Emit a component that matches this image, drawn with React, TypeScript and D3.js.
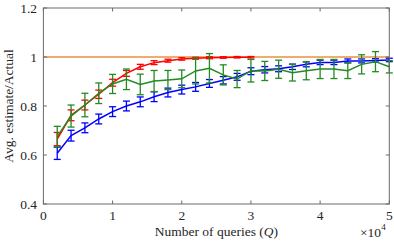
import React from "react";
import * as d3 from "d3";

const queriesX = [0.2, 0.4, 0.6, 0.8, 1.0, 1.2, 1.4, 1.6, 1.8, 2.0, 2.2, 2.4, 2.6, 2.8, 3.0, 3.2, 3.4, 3.6, 3.8, 4.0, 4.2, 4.4, 4.6, 4.8, 5.0];

const redMean = [0.665, 0.762, 0.804, 0.848, 0.895, 0.933, 0.96, 0.977, 0.985, 0.992, 0.995, 0.997, 0.998, 0.999, 0.999];
const redErr = [0.027, 0.022, 0.02, 0.017, 0.014, 0.012, 0.01, 0.008, 0.006, 0.005, 0.004, 0.004, 0.003, 0.003, 0.003];

const blueMean = [0.607, 0.679, 0.711, 0.747, 0.777, 0.8, 0.817, 0.838, 0.855, 0.867, 0.878, 0.892, 0.905, 0.919, 0.942, 0.948, 0.952, 0.96, 0.97, 0.978, 0.978, 0.984, 0.984, 0.986, 0.988];
const blueErr = [0.025, 0.022, 0.02, 0.02, 0.02, 0.02, 0.02, 0.02, 0.018, 0.018, 0.018, 0.016, 0.015, 0.014, 0.014, 0.013, 0.012, 0.011, 0.01, 0.009, 0.009, 0.008, 0.008, 0.007, 0.007];

const greenMean = [0.675, 0.759, 0.804, 0.852, 0.89, 0.909, 0.888, 0.902, 0.906, 0.911, 0.943, 0.954, 0.927, 0.91, 0.944, 0.943, 0.95, 0.936, 0.944, 0.951, 0.951, 0.944, 0.97, 0.981, 0.96];
const greenErr = [0.042, 0.045, 0.048, 0.042, 0.039, 0.042, 0.042, 0.043, 0.039, 0.036, 0.053, 0.06, 0.041, 0.035, 0.046, 0.039, 0.037, 0.034, 0.037, 0.039, 0.039, 0.032, 0.039, 0.041, 0.025];

const xTicks = [0, 1, 2, 3, 4, 5];
const yTicks = [0.4, 0.6, 0.8, 1, 1.2];
const yTickLabels = ["0.4", "0.6", "0.8", "1", "1.2"];

const W = 394, H = 242;
const L = 43.4, R = 389.3, T = 8, B = 204;
const FONT = "Liberation Serif, DejaVu Serif, serif";

export default function App() {
  const x = d3.scaleLinear().domain([0, 5]).range([L, R]);
  const y = d3.scaleLinear().domain([0.4, 1.2]).range([B, T]);
  const line = d3.line<[number, number]>().x(d => x(d[0])).y(d => y(d[1]));

  const series = [
    { mean: redMean, err: redErr, color: "#ff0000" },
    { mean: blueMean, err: blueErr, color: "#0000ff" },
    { mean: greenMean, err: greenErr, color: "#228b22" },
  ];
  const cap = 3.5;
  const axisColor = "#6a6a6a";
  const tl = 3.5;
  const txt = { fontFamily: FONT, fontSize: "13.5px", fill: "#262626" } as React.CSSProperties;

  return (
    <svg width={W} height={H} style={{ position: "absolute", left: 0, top: 0, background: "#fff", fontFamily: FONT }}>
      <rect x={0} y={0} width={W} height={H} fill="#fff" />
      <line x1={x(0)} x2={x(5)} y1={y(1)} y2={y(1)} stroke="#e8913f" strokeWidth={1.5} />
      {series.map((s, si) => {
        const pts: [number, number][] = s.mean.map((m, i) => [queriesX[i], m]);
        return (
          <g key={si}>
            <path d={line(pts) || ""} fill="none" stroke={s.color} strokeWidth={1.5} />
            {s.mean.map((m, i) => {
              const cx = x(queriesX[i]);
              const y1 = y(m + s.err[i]);
              const y2 = y(m - s.err[i]);
              return (
                <g key={i} stroke={s.color} strokeWidth={1.3}>
                  <line x1={cx} x2={cx} y1={y1} y2={y2} />
                  <line x1={cx - cap} x2={cx + cap} y1={y1} y2={y1} />
                  <line x1={cx - cap} x2={cx + cap} y1={y2} y2={y2} />
                </g>
              );
            })}
          </g>
        );
      })}
      <rect x={L} y={T} width={R - L} height={B - T} fill="none" stroke={axisColor} strokeWidth={1} />
      {xTicks.map(t => (
        <g key={"x" + t}>
          <line x1={x(t)} x2={x(t)} y1={B} y2={B - tl} stroke={axisColor} />
          <line x1={x(t)} x2={x(t)} y1={T} y2={T + tl} stroke={axisColor} />
          <text x={x(t)} y={219.5} textAnchor="middle" style={txt}>{t}</text>
        </g>
      ))}
      {yTicks.map((t, i) => (
        <g key={"y" + t}>
          <line x1={L} x2={L + tl} y1={y(t)} y2={y(t)} stroke={axisColor} />
          <line x1={R} x2={R - tl} y1={y(t)} y2={y(t)} stroke={axisColor} />
          <text x={37} y={y(t) + 4.5} textAnchor="end" style={txt}>{yTickLabels[i]}</text>
        </g>
      ))}
      <text x={(L + R) / 2} y={236} textAnchor="middle" style={txt}>
        Number of queries (<tspan style={{ fontStyle: "italic" }}>Q</tspan>)
      </text>
      <text x={360} y={237} style={txt}>
        ×10<tspan style={{ fontSize: "9px" }} dy={-7}>4</tspan>
      </text>
      <text transform={`translate(13, ${(T + B) / 2}) rotate(-90)`} textAnchor="middle" style={txt}>
        Avg. estimate/Actual
      </text>
    </svg>
  );
}
